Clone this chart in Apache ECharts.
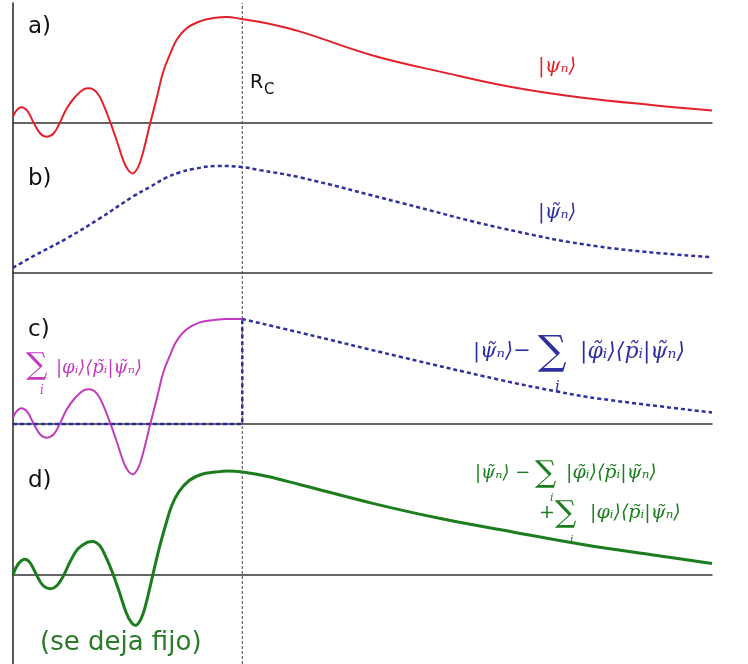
<!DOCTYPE html>
<html>
<head>
<meta charset="utf-8">
<script src="https://cdn.jsdelivr.net/npm/echarts@6/dist/echarts.min.js"></script>
<style>
  html, body { margin: 0; padding: 0; background: #fff; }
  #chart { width: 748px; height: 664px; }
</style>
</head>
<body>
<div id="chart"></div>
<script>
// radio de corte
var Rc = 3.28;

// a) funcion de onda real |psi_n>
var rA = [0, 0.05, 0.12, 0.20, 0.29, 0.39, 0.48, 0.58, 0.66, 0.77, 0.89, 1.01, 1.09, 1.20, 1.29, 1.39, 1.48, 1.58, 1.65, 1.71, 1.79, 1.86, 1.96, 2.06, 2.15, 2.25, 2.34, 2.48, 2.68, 2.87, 3.06, 3.27, 3.63, 4.11, 5.16, 6.17, 7.15, 8.15, 9.16, 10];
var psiA = [0.06, 0.12, 0.15, 0.12, 0.01, -0.10, -0.13, -0.10, -0.01, 0.14, 0.25, 0.32, 0.33, 0.29, 0.18, 0.01, -0.16, -0.36, -0.45, -0.48, -0.42, -0.28, -0.01, 0.25, 0.49, 0.66, 0.79, 0.90, 0.97, 1.00, 1.01, 0.99, 0.95, 0.87, 0.64, 0.48, 0.34, 0.24, 0.17, 0.12];

// b) pseudo funcion de onda |psi~_n>
var rB = [0, 0.29, 0.77, 1.24, 1.72, 1.96, 2.20, 2.39, 2.58, 2.91, 3.27, 3.53, 4.11, 5.54, 6.97, 8.40, 10];
var psiB = [0.05, 0.16, 0.33, 0.52, 0.73, 0.82, 0.91, 0.96, 0.99, 1.02, 1.01, 0.98, 0.91, 0.67, 0.43, 0.25, 0.15];

// c) parte atomica (dentro de Rc) y parte suave
var rC = [0, 0.05, 0.12, 0.20, 0.29, 0.39, 0.48, 0.58, 0.66, 0.77, 0.89, 1.01, 1.09, 1.20, 1.29, 1.39, 1.48, 1.58, 1.65, 1.71, 1.79, 1.86, 1.96, 2.06, 2.15, 2.25, 2.34, 2.48, 2.68, 2.87, 3.06, 3.28];
var phiC = [0.06, 0.12, 0.15, 0.12, 0.01, -0.10, -0.13, -0.10, -0.01, 0.14, 0.25, 0.32, 0.33, 0.29, 0.18, 0.01, -0.16, -0.36, -0.45, -0.48, -0.42, -0.28, -0.01, 0.25, 0.49, 0.66, 0.79, 0.90, 0.97, 0.99, 1.00, 1.00];
var rCstep = [0, Rc, Rc];
var tilC = [0, 0, 1.0];
var rCout = [3.28, 4.11, 5.54, 6.97, 7.78, 8.40, 10];
var tilCout = [1.0, 0.87, 0.64, 0.42, 0.31, 0.24, 0.11];

// d) funcion reconstruida
var rD = [0, 0.07, 0.17, 0.24, 0.33, 0.43, 0.54, 0.63, 0.72, 0.82, 0.93, 1.06, 1.14, 1.24, 1.33, 1.43, 1.52, 1.62, 1.69, 1.75, 1.83, 1.90, 2.00, 2.09, 2.19, 2.27, 2.37, 2.52, 2.70, 2.89, 3.08, 3.28, 3.63, 4.11, 5.16, 6.17, 7.15, 8.15, 9.16, 10];
var psiD = [0, 0.10, 0.15, 0.12, 0.01, -0.10, -0.13, -0.10, -0.01, 0.13, 0.25, 0.31, 0.32, 0.28, 0.17, 0.01, -0.16, -0.36, -0.45, -0.48, -0.42, -0.28, 0, 0.25, 0.49, 0.66, 0.79, 0.90, 0.96, 0.98, 0.99, 0.98, 0.94, 0.86, 0.68, 0.53, 0.41, 0.29, 0.19, 0.11];

function pares(xs, ys) {
  return xs.map(function (x, i) { return [x, ys[i]]; });
}

var chart = echarts.init(document.getElementById('chart'));

// cada panel: 122 px sobre la linea base
var tops = [1, 151, 302, 453];
var heights = [244, 244, 244, 211];
var mins = [-1.162, -1.162, -1.162, -0.848];
var grids = [], xAxes = [], yAxes = [];
tops.forEach(function (t, i) {
  grids.push({ left: 13, right: 36, top: t, height: heights[i] });
  xAxes.push({
    type: 'value', min: 0, max: 10, gridIndex: i,
    axisLine: { show: true, onZero: true, lineStyle: { color: '#333', width: 1.5 } },
    axisTick: { show: false }, axisLabel: { show: false }, splitLine: { show: false }
  });
  yAxes.push({
    type: 'value', min: mins[i], max: 1.162, gridIndex: i, show: false
  });
});
// capa para el eje vertical y la linea de Rc
grids.push({ left: 13, right: 36, top: 3, bottom: 0 });
xAxes.push({ type: 'value', min: 0, max: 10, gridIndex: 4, show: false });
yAxes.push({
  type: 'value', min: 0, max: 1, gridIndex: 4,
  axisLine: { show: true, lineStyle: { color: '#222', width: 1.5 } },
  axisTick: { show: false }, axisLabel: { show: false }, splitLine: { show: false }
});

var serif = '"DejaVu Serif", serif';
var sans = '"DejaVu Sans", sans-serif';

function txt(x, y, text, size, color, family, italic) {
  return {
    type: 'text', x: x, y: y, silent: true,
    style: {
      text: text, fill: color,
      font: (italic ? 'italic ' : '') + size + 'px ' + family,
      verticalAlign: 'middle', textVerticalAlign: 'middle'
    }
  };
}

var RED = '#e3212b', BLUE = '#2f30a0', MAG = '#c23bbd', GREEN = '#1b7d1e';

function curva(idx, data, color, width, dotted, smooth) {
  return {
    type: 'line', xAxisIndex: idx, yAxisIndex: idx, showSymbol: false,
    smooth: smooth, clip: false, data: data,
    lineStyle: { color: color, width: width, type: dotted ? [4, 3] : 'solid' }
  };
}

var option = {
  animation: false,
  grid: grids,
  xAxis: xAxes,
  yAxis: yAxes,
  series: [
    {
      type: 'line', xAxisIndex: 4, yAxisIndex: 4, showSymbol: false,
      data: [[Rc, 0], [Rc, 1]],
      lineStyle: { color: '#444', width: 1, type: [3, 2] }, z: 1
    },
    curva(0, pares(rA, psiA), RED, 2, false, 0.4),
    curva(1, pares(rB, psiB), BLUE, 2.5, true, 0.4),
    curva(2, pares(rC, phiC), MAG, 2, false, 0.4),
    curva(2, pares(rCstep, tilC), BLUE, 2.5, true, false),
    curva(2, pares(rCout, tilCout), BLUE, 2.5, true, 0.4),
    curva(3, pares(rD, psiD), GREEN, 3, false, 0.4)
  ],
  graphic: [
    txt(28, 27, 'a)', 23, '#111', sans),
    txt(28, 179, 'b)', 23, '#111', sans),
    txt(28, 330, 'c)', 23, '#111', sans),
    txt(28, 481, 'd)', 23, '#111', sans),
    txt(250, 83, 'R', 19, '#111', sans),
    txt(264, 90, 'C', 15, '#111', sans),
    txt(538, 67, '|ψₙ⟩', 20, RED, serif, true),
    txt(538, 213, '|ψ\u0303ₙ⟩', 20, BLUE, serif, true),
    // c)
    txt(26, 366, '∑', 30, MAG, serif),
    txt(40, 391, 'i', 12, MAG, serif, true),
    txt(56, 368, '|φᵢ⟩⟨p\u0303ᵢ|ψ\u0303ₙ⟩', 18, MAG, serif, true),
    txt(473, 352, '|ψ\u0303ₙ⟩−', 21, BLUE, serif, true),
    txt(538, 354, '∑', 40, BLUE, serif),
    txt(555, 387, 'i', 15, BLUE, serif, true),
    txt(580, 352, '|φ\u0303ᵢ⟩⟨p\u0303ᵢ|ψ\u0303ₙ⟩', 22, BLUE, serif, true),
    // d)
    txt(475, 473, '|ψ\u0303ₙ⟩ −', 18, GREEN, serif, true),
    txt(535, 474, '∑', 30, GREEN, serif),
    txt(550, 498, 'i', 11, GREEN, serif, true),
    txt(566, 473, '|φ\u0303ᵢ⟩⟨p\u0303ᵢ|ψ\u0303ₙ⟩', 19, GREEN, serif, true),
    txt(539, 513, '+', 19, GREEN, serif),
    txt(555, 514, '∑', 30, GREEN, serif),
    txt(570, 540, 'i', 11, GREEN, serif, true),
    txt(590, 513, '|φᵢ⟩⟨p\u0303ᵢ|ψ\u0303ₙ⟩', 19, GREEN, serif, true),
    txt(40, 643, '(se deja fijo)', 26, '#2a7a2a', sans)
  ]
};

chart.setOption(option);
</script>
</body>
</html>
